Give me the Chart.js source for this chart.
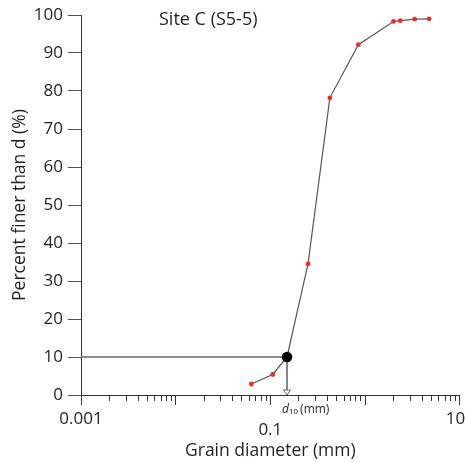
<!DOCTYPE html>
<html>
<head>
<meta charset="utf-8">
<script src="https://cdn.jsdelivr.net/npm/chart.js@4/dist/chart.umd.min.js"></script>
<style>
  html, body { margin: 0; padding: 0; background: #ffffff; }
  #wrap { width: 465px; height: 462px; }
</style>
</head>
<body>
<div id="wrap"><canvas id="c" width="465" height="462"></canvas></div>
<script>
// ---- data ----
const chartTitle = 'Site C (S5-5)';
const grainSize = [0.063, 0.106, 0.25, 0.425, 0.85, 2.0, 2.36, 3.35, 4.75];   // mm
const percentFiner = [2.9, 5.4, 34.5, 78.2, 92.2, 98.3, 98.5, 98.9, 99.0];   // %
const d10Size = 0.15;      // mm
const d10Percent = 10;     // %
const xMajorTicks = [0.001, 0.01, 0.1, 1, 10];
const xMinorMultipliers = [2, 3, 4, 5, 6, 7, 8, 9];
const xLabelled = { '0.001': '0.001', '0.1': ['', '0.1'], '10': '10\u2002' };
const yTicks = [0, 10, 20, 30, 40, 50, 60, 70, 80, 90, 100];

// ---- derived tables ----
const xAllTicks = [];
xMajorTicks.forEach((m, i) => {
  xAllTicks.push(m);
  if (i < xMajorTicks.length - 1) xMinorMultipliers.forEach(k => xAllTicks.push(+(m * k).toPrecision(3)));
});
const measured = grainSize.map((x, i) => ({ x, y: percentFiner[i] }));
const curve = measured.concat([{ x: d10Size, y: d10Percent }]).sort((a, b) => a.x - b.x);

const FONT = "'Open Sans', 'Noto Sans', sans-serif";
const TXT = '#231f20';
const AX = '#333333';

const overlay = {
  id: 'overlay',
  afterDatasetsDraw(chart) {
    const { ctx, scales: { x, y } } = chart;
    const px = x.getPixelForValue(d10Size);
    const py = y.getPixelForValue(0);
    ctx.save();
    // open arrowhead at the x axis
    ctx.beginPath();
    ctx.moveTo(px - 3.5, py - 5);
    ctx.lineTo(px + 3.5, py - 5);
    ctx.lineTo(px, py);
    ctx.closePath();
    ctx.fillStyle = '#ffffff';
    ctx.fill();
    ctx.strokeStyle = '#666666';
    ctx.lineWidth = 1;
    ctx.stroke();
    // title inside plot
    ctx.fillStyle = TXT;
    ctx.font = "18px " + FONT;
    ctx.textBaseline = 'middle';
    ctx.textAlign = 'left';
    ctx.fillText(chartTitle, 159, 20);
    // d10 label
    let lx = px - 5, ly = py + 18;
    ctx.textBaseline = 'alphabetic';
    ctx.font = "italic 12px " + FONT;
    ctx.fillText('d', lx, ly);
    lx += ctx.measureText('d').width;
    ctx.font = "8px " + FONT;
    ctx.fillText('10', lx, ly + 1);
    lx += ctx.measureText('10').width + 2;
    ctx.font = "12px " + FONT;
    ctx.fillText('(mm)', lx, ly);
    ctx.restore();
  }
};

new Chart(document.getElementById('c'), {
  type: 'scatter',
  data: {
    datasets: [
      { label: 'curve', data: curve, showLine: true, borderColor: '#555555', borderWidth: 1.2,
        pointRadius: 0, order: 3 },
      { label: 'horizontal', data: [{ x: xMajorTicks[0], y: d10Percent }, { x: d10Size, y: d10Percent }],
        showLine: true, borderColor: '#6a6a6a', borderWidth: 1.6, pointRadius: 0, order: 4 },
      { label: 'vertical', data: [{ x: d10Size, y: d10Percent }, { x: d10Size, y: 0 }],
        showLine: true, borderColor: '#777777', borderWidth: 1, pointRadius: 0, order: 4 },
      { label: 'samples', data: measured, showLine: false, pointRadius: 2.4, pointBorderWidth: 0,
        backgroundColor: '#ee2a2a', borderColor: '#ee2a2a', order: 1 },
      { label: 'd10', data: [{ x: d10Size, y: d10Percent }], showLine: false, pointRadius: 5.3,
        pointBorderWidth: 0, backgroundColor: '#000000', borderColor: '#000000', order: 0 }
    ]
  },
  options: {
    responsive: false,
    animation: false,
    layout: { padding: { top: 15, right: 4, bottom: 0, left: 0 } },
    plugins: { legend: { display: false }, tooltip: { enabled: false }, title: { display: false } },
    scales: {
      x: {
        type: 'logarithmic', position: 'bottom', weight: 1, min: 0.001, max: 10,
        border: { color: AX, width: 1 },
        grid: { drawOnChartArea: false, drawTicks: true, tickLength: 6, tickColor: AX },
        afterBuildTicks: s => { s.ticks = xAllTicks.map(v => ({ value: v })); },
        ticks: {
          autoSkip: false, maxRotation: 0, minRotation: 0, padding: 13, color: TXT,
          font: { family: FONT, size: 17, lineHeight: 0.65 },
          callback: v => { const k = String(+v.toPrecision(3)); return xLabelled[k] !== undefined ? xLabelled[k] : ''; }
        },
        title: { display: true, text: 'Grain diameter (mm)', color: TXT,
                 font: { family: FONT, size: 17.5, lineHeight: 1.2 }, padding: { top: 0, bottom: 0 } },
        afterFit: s => { s.height = 67; s.paddingLeft = 0; s.paddingRight = 0; }
      },
      xmajor: {
        type: 'logarithmic', position: 'bottom', weight: 0, min: 0.001, max: 10,
        border: { display: false },
        grid: { drawOnChartArea: false, drawTicks: true, tickLength: 10, tickColor: AX },
        afterBuildTicks: s => { s.ticks = xMajorTicks.map(v => ({ value: v })); },
        ticks: { display: false },
        afterFit: s => { s.height = 0; s.paddingLeft = 0; s.paddingRight = 0; }
      },
      y: {
        type: 'linear', position: 'left', min: 0, max: 100,
        border: { color: AX, width: 1 },
        grid: { drawOnChartArea: false, drawTicks: true, tickLength: 13, tickColor: '#555555' },
        afterBuildTicks: s => { s.ticks = yTicks.map(v => ({ value: v })); },
        ticks: { padding: 5, color: TXT, font: { family: FONT, size: 17 } },
        title: { display: true, text: 'Percent finer than d (%)', color: TXT,
                 font: { family: FONT, size: 17.5, lineHeight: 1.2 }, padding: { top: 9.5, bottom: 0 } },
        afterFit: s => { s.width = 81; s.paddingTop = 0; s.paddingBottom = 0; }
      }
    }
  },
  plugins: [overlay]
});
</script>
</body>
</html>
